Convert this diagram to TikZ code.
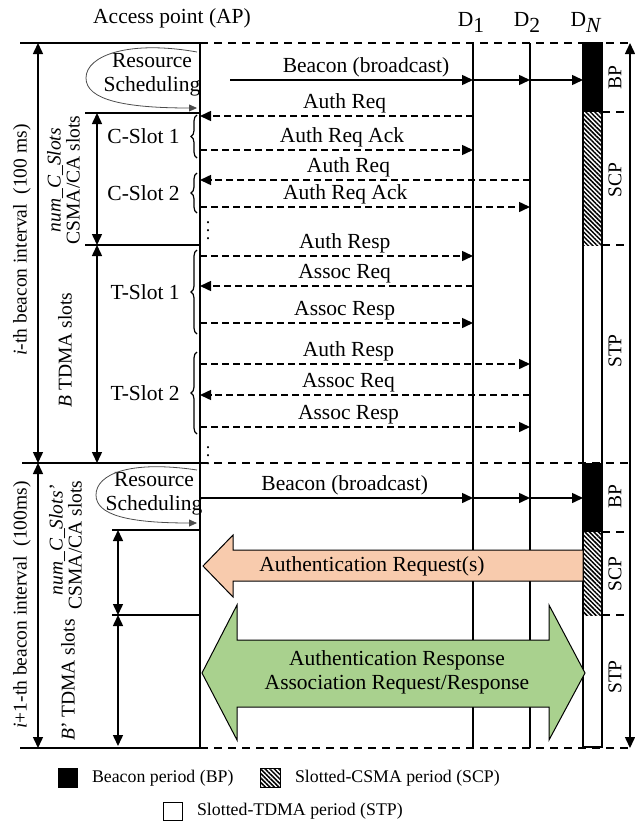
\documentclass[tikz,border=0pt]{standalone}
\usepackage{fontspec}
\setmainfont{Liberation Serif}
\usetikzlibrary{arrows.meta,decorations.pathreplacing,patterns.meta}

\begin{document}
\begin{tikzpicture}[x=.5pt,y=-.5pt,>={Triangle[length=5.5pt,width=5pt]},
 font=\fontsize{10.75}{12}\selectfont,
 life/.style={line width=1.1pt},
 msg/.style={line width=.75pt,->},
 req/.style={msg,dash pattern=on 3.5pt off 2pt},
 lbl/.style={above,inner sep=1pt},
 cut/.style={line width=.7pt,dash pattern=on 4pt off 3pt},
 edge/.style={line width=.8pt},
 period/.style={line width=.75pt,<->},
 side/.style={rotate=90,font=\fontsize{9.75}{11}\selectfont,inner sep=0pt},
 slot/.style={decorate,decoration={brace,amplitude=3pt},line width=.6pt},
 sched/.style={draw=black!70,line width=.4pt,->,>={Triangle[length=4pt,width=3.5pt]}},
 more/.style={inner sep=0pt,font=\fontsize{9}{10}\selectfont},
 bp/.style={fill=black},
 scp/.style={pattern={Lines[angle=-45,distance=1.6pt,line width=.75pt]}},
 legend/.style={right,font=\fontsize{8.9}{10}\selectfont}]
\useasboundingbox (0,0) rectangle (635,825);

% lifelines
\coordinate (ap) at (200,43);
\coordinate (d1) at (473,43);
\coordinate (d2) at (530,43);
\coordinate (dn) at (583,43);
\node (aph) at (172,18) {Access point (AP)};
\node (d1h) at (471,22) {D\raisebox{-3pt}{1}};
\node (d2h) at (527,22) {D\raisebox{-3pt}{2}};
\node (dnh) at (586,22) {D\raisebox{-3pt}{\textit{N}}};

% beacon interval borders
\draw[edge] (20,43) -- (ap);
\draw[cut] (ap) -- (630,43);
\draw[edge] (22,463) -- (ap |- 0,463);
\draw[cut] (ap |- 0,463) -- (630,463);
\draw[edge] (20,748) -- (ap |- 0,748);
\draw[cut] (ap |- 0,748) -- (630,748);
\draw[edge] (85,113) -- (ap |- 0,113);
\draw[edge] (85,245) -- (ap |- 0,245);
\draw[edge] (112,530) -- (ap |- 0,530);
\draw[edge] (112,615) -- (ap |- 0,615);
\draw[cut] (602,112) -- (630,112);
\draw[cut] (602,245) -- (630,245);
\draw[cut] (602,532) -- (630,532);
\draw[cut] (602,615) -- (630,615);

% periods seen by D_N
\fill[bp] (583,43) rectangle (602,112);
\fill[scp] (583,112) rectangle (602,245);
\fill[bp] (583,463) rectangle (602,532);
\fill[scp] (583,532) rectangle (602,615);
\draw[life] (dn) rectangle (602,747);

\draw[life] (ap) -- (ap |- 0,748);
\draw[life] (d1) -- (d1 |- 0,748);
\draw[life] (d2) -- (d2 |- 0,748);

% interval lengths
\draw[period] (38,43) -- (38,463);
\draw[period] (38,463) -- (38,748);
\draw[period] (97,113) -- (97,245);
\draw[period] (97,245) -- (97,463);
\draw[period] (118,530) -- (118,615);
\draw[period] (118,615) -- (118,746);
\draw[period] (630,43) -- (630,748);
\node[side] (int1) at (22,240) {\textit{i}-th beacon interval\hspace{.5em}(100 ms)};
\node[side] (int2) at (22,605) {\textit{i}+1-th beacon interval\hspace{.5em}(100ms)};
\node[side] (nc1) at (55,180) {\textit{num\_C\_Slots}};
\node[side] (cs1) at (73,180) {CSMA/CA slots};
\node[side] (ts1) at (65,350) {\textit{B} TDMA slots};
\node[side] (nc2) at (57,540) {\textit{num\_C\_Slots'}};
\node[side] (cs2) at (75,545) {CSMA/CA slots};
\node[side] (ts2) at (68,680) {\textit{B}' TDMA slots};
\node[side] (bp1) at (615,78) {BP};
\node[side] (scp1) at (615,180) {SCP};
\node[side] (stp1) at (615,351) {STP};
\node[side] (bp2) at (615,497) {BP};
\node[side] (scp2) at (615,574) {SCP};
\node[side] (stp2) at (615,677) {STP};

% scheduling at the AP
\node[align=center,inner sep=0pt] (rs1) at (152,75) {Resource\\Scheduling};
\draw[sched] (197,52) .. controls (130,40) and (86,55) .. (86,78) .. controls (86,100) and (125,108) .. (197,108);
\node[align=center,inner sep=0pt] (rs2) at (154,494) {Resource\\Scheduling};
\draw[sched] (197,470) .. controls (130,460) and (96,474) .. (96,495) .. controls (96,515) and (128,523) .. (197,523);

% i-th interval
\draw[msg] (230,80) -- node[lbl,pos=.56] (bc1) {Beacon (broadcast)} (d1 |- 0,80);
\draw[msg] (d1 |- 0,80) -- (d2 |- 0,80);
\draw[msg] (d2 |- 0,80) -- (dn |- 0,80);
\draw[req] (d1 |- 0,116) -- node[lbl,pos=.47] (m1) {Auth Req} (ap |- 0,116);
\draw[req] (ap |- 0,150) -- node[lbl,pos=.52] (m2) {Auth Req Ack} (d1 |- 0,150);
\draw[req] (d2 |- 0,180) -- node[lbl,pos=.55] (m3) {Auth Req} (ap |- 0,180);
\draw[req] (ap |- 0,207) -- node[lbl,pos=.44] (m4) {Auth Req Ack} (d2 |- 0,207);
\draw[req] (ap |- 0,256) -- node[lbl,pos=.53] (m5) {Auth Resp} (d1 |- 0,256);
\draw[req] (d1 |- 0,286) -- node[lbl,pos=.47] (m6) {Assoc Req} (ap |- 0,286);
\draw[req] (ap |- 0,323) -- node[lbl,pos=.53] (m7) {Assoc Resp} (d1 |- 0,323);
\draw[req] (ap |- 0,364) -- node[lbl,pos=.45] (m8) {Auth Resp} (d2 |- 0,364);
\draw[req] (d2 |- 0,395) -- node[lbl,pos=.55] (m9) {Assoc Req} (ap |- 0,395);
\draw[req] (ap |- 0,427) -- node[lbl,pos=.45] (m10) {Assoc Resp} (d2 |- 0,427);
\node[more] (dots1) at (208,225) {$\vdots$};
\node[more] (dots2) at (208,450) {$\vdots$};

\draw[slot] (197,158) -- node[left=5pt] (c1) {C-Slot 1} (197,115);
\draw[slot] (197,213) -- node[left=5pt] (c2) {C-Slot 2} (197,173);
\draw[slot] (197,334) -- node[left=5pt] (t1) {T-Slot 1} (197,250);
\draw[slot] (197,434) -- node[left=5pt] (t2) {T-Slot 2} (197,352);

% i+1-th interval
\draw[msg] (ap |- 0,498) -- node[lbl,pos=.53] (bc2) {Beacon (broadcast)} (d1 |- 0,498);
\draw[msg] (d1 |- 0,498) -- (d2 |- 0,498);
\draw[msg] (d2 |- 0,498) -- (dn |- 0,498);
\draw[line width=.5pt,fill={rgb,255:red,248;green,203;blue,173}]
  (583,550) -- (233,550) -- (233,535) -- (203,566) -- (233,597) -- (233,581) -- (583,581) -- cycle;
\node (areq) at (372,566) {Authentication Request(s)};
\draw[line width=.5pt,fill={rgb,255:red,169;green,209;blue,142}]
  (237,640) -- (549,640) -- (549,605) -- (585,673) -- (549,740) -- (549,707)
  -- (237,707) -- (237,740) -- (202,673) -- (237,605) -- cycle;
\node[align=center] (aresp) at (397,672) {Authentication Response\\Association Request/Response};

% legend
\draw[bp] (58,768) rectangle (77,787);
\node[legend] (lbp) at (85,778) {Beacon period (BP)};
\draw[scp] (260,768) rectangle (280,787);
\node[legend] (lscp) at (288,778) {Slotted-CSMA period (SCP)};
\draw (163,802) rectangle (182,820);
\node[legend] (lstp) at (190,811) {Slotted-TDMA period (STP)};
\end{tikzpicture}
\end{document}
